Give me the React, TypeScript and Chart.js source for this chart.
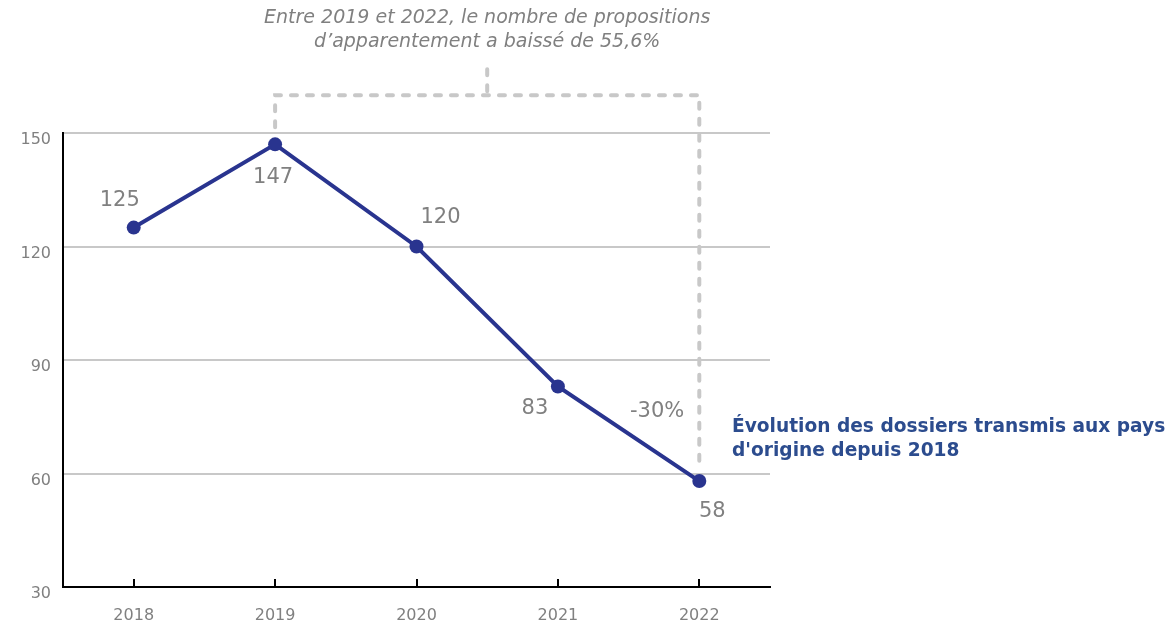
import React, { useEffect, useRef } from "react";
import { Chart, registerables } from "chart.js";

Chart.register(...registerables);

const years = ["2018", "2019", "2020", "2021", "2022"];
const dossiers = [125, 147, 120, 83, 58];
const yTicks = [30, 60, 90, 120, 150];
const valueLabelPlacement = [
  [-14, -27],
  [-2, 33],
  [24, -29],
  [-23, 22],
  [13, 30],
];
const annotationLines = [
  "Entre 2019 et 2022, le nombre de propositions",
  "d\u2019apparentement a baissé de 55,6%",
];
const titleLines = ["Évolution des dossiers transmis aux pays", "d'origine depuis 2018"];
const changeLabel = "-30%";

const FONT = "'DejaVu Sans', Verdana, sans-serif";
const GREY = "#808080";
const NAVY = "#29348f";

const overlayPlugin = {
  id: "overlay",
  afterDraw(chart: any) {
    const ctx = chart.ctx;
    const xs = chart.scales.x;
    const ys = chart.scales.y;
    const area = chart.chartArea;
    ctx.save();
    // inward ticks on x axis
    ctx.strokeStyle = "#000";
    ctx.lineWidth = 2;
    years.forEach((_, i) => {
      const x = Math.round(xs.getPixelForValue(i));
      ctx.beginPath();
      ctx.moveTo(x, area.bottom);
      ctx.lineTo(x, area.bottom - 8);
      ctx.stroke();
    });
    // dashed bracket
    const x1 = xs.getPixelForValue(1);
    const x2 = xs.getPixelForValue(4);
    const yBar = ys.getPixelForValue(160);
    const yLeft = ys.getPixelForValue(151.5);
    const yRight = ys.getPixelForValue(dossiers[4] + 3);
    const xm = (x1 + x2) / 2;
    ctx.strokeStyle = "#c8c8c8";
    ctx.lineWidth = 4;
    ctx.lineCap = "round";
    ctx.setLineDash([6, 10]);
    ctx.beginPath();
    ctx.moveTo(x1, yLeft);
    ctx.lineTo(x1, yBar);
    ctx.lineTo(x2, yBar);
    ctx.lineTo(x2, yRight);
    ctx.stroke();
    ctx.beginPath();
    ctx.moveTo(xm, yBar - 4);
    ctx.lineTo(xm, ys.getPixelForValue(169.5));
    ctx.stroke();
    ctx.setLineDash([]);
    // annotation text
    ctx.fillStyle = GREY;
    ctx.font = `italic 19px ${FONT}`;
    ctx.textAlign = "center";
    ctx.textBaseline = "middle";
    annotationLines.forEach((t, i) => ctx.fillText(t, xm, 18 + i * 24));
    // value labels
    const meta = chart.getDatasetMeta(0);
    ctx.font = `21px ${FONT}`;
    meta.data.forEach((pt: any, i: number) => {
      const [dx, dy] = valueLabelPlacement[i];
      ctx.fillText(String(dossiers[i]), pt.x + dx, pt.y + dy);
    });
    // change label
    ctx.textAlign = "right";
    ctx.fillText(changeLabel, x2 - 15, ys.getPixelForValue(76.3));
    // title
    ctx.fillStyle = "#2c4c8e";
    ctx.font = `bold 18.6px ${FONT}`;
    ctx.textAlign = "left";
    titleLines.forEach((t, i) => ctx.fillText(t, area.right - 38, ys.getPixelForValue(76.3) + 15 + i * 24));
    ctx.restore();
  },
};

export default function App() {
  const ref = useRef<HTMLCanvasElement>(null);
  useEffect(() => {
    document.body.style.margin = "0";
    const chart = new Chart(ref.current!, {
      type: "line",
      data: {
        labels: years,
        datasets: [
          {
            data: dossiers,
            borderColor: NAVY,
            backgroundColor: NAVY,
            borderWidth: 4,
            pointRadius: 7,
            pointHoverRadius: 7,
            pointBackgroundColor: NAVY,
            pointBorderWidth: 0,
            tension: 0,
          },
        ],
      },
      options: {
        responsive: false,
        animation: false,
        layout: { padding: { top: 133, right: 401, left: 0, bottom: 0 } },
        plugins: { legend: { display: false }, tooltip: { enabled: false } },
        scales: {
          x: {
            offset: true,
            grid: { display: false, drawTicks: false },
            border: { color: "#000", width: 2 },
            ticks: { color: GREY, font: { family: FONT, size: 16 }, padding: 19 },
            afterFit: (s: any) => {
              s.height = 45;
            },
          },
          y: {
            min: 30,
            max: 150,
            afterBuildTicks: (s: any) => {
              s.ticks = yTicks.map((v) => ({ value: v }));
            },
            grid: {
              drawTicks: false,
              lineWidth: 2,
              color: (c: any) => (c.tick && c.tick.value === 30 ? "rgba(0,0,0,0)" : "#c8c8c8"),
            },
            border: { color: "#000", width: 2 },
            ticks: { color: GREY, font: { family: FONT, size: 16 }, padding: 12, labelOffset: 7 },
            afterFit: (s: any) => {
              s.width = 63;
            },
          },
        },
      },
      plugins: [overlayPlugin],
    });
    return () => chart.destroy();
  }, []);
  return (
    <div style={{ position: "absolute", left: 0, top: 0, width: 1171, height: 632 }}>
      <canvas ref={ref} width={1171} height={632} />
    </div>
  );
}
